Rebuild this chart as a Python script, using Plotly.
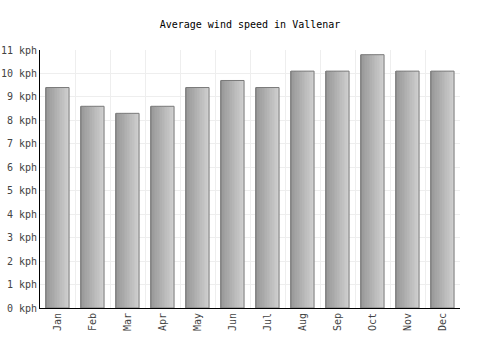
import plotly.graph_objects as go

months = ["Jan", "Feb", "Mar", "Apr", "May", "Jun", "Jul", "Aug", "Sep", "Oct", "Nov", "Dec"]
wind_kph = [9.4, 8.6, 8.3, 8.6, 9.4, 9.7, 9.4, 10.1, 10.1, 10.8, 10.1, 10.1]
y_ticks = list(range(0, 12))
y_tick_labels = [f"{v} kph" for v in y_ticks]

BAR_W = 0.66
N_SLICES = 14
fig = go.Figure()

# gradient fill simulated with thin slices (dark left -> light right)
for i in range(N_SLICES):
    t = i / (N_SLICES - 1)
    c = int(152 + (206 - 152) * t)
    w = BAR_W / N_SLICES
    fig.add_trace(go.Bar(
        x=months, y=wind_kph,
        width=w * 1.05,
        offset=-BAR_W / 2 + i * w,
        marker=dict(color=f"rgb({c},{c},{c})", line=dict(width=0)),
        hoverinfo="skip", showlegend=False,
    ))

# outline
fig.add_trace(go.Bar(
    x=months, y=wind_kph,
    width=BAR_W, offset=-BAR_W / 2,
    marker=dict(color="rgba(0,0,0,0)", line=dict(color="#7a7a7a", width=1)),
    showlegend=False,
))

font = "DejaVu Sans Mono"
fig.update_layout(
    barmode="overlay",
    width=500, height=350,
    margin=dict(l=40, r=40, t=50, b=42),
    paper_bgcolor="white", plot_bgcolor="white",
    title=dict(text="Average wind speed in Vallenar", x=0.5, xanchor="center",
               y=1 - 24 / 350, yanchor="middle",
               font=dict(family=font, size=10, color="black")),
    font=dict(family=font, size=10, color="#333"),
)
fig.update_xaxes(
    type="category", tickson="boundaries", showgrid=True, gridcolor="#eeeeee",
    showline=True, linecolor="black", linewidth=1, tickangle=-90,
    ticks="", tickfont=dict(family=font, size=10, color="#444"),
    range=[-0.5, 11.5], automargin=False,
)
fig.update_yaxes(
    range=[0, 11], tickvals=y_ticks, ticktext=y_tick_labels,
    showgrid=True, gridcolor="#eeeeee", showline=True, linecolor="black", linewidth=1,
    ticks="", zeroline=False, tickfont=dict(family=font, size=10, color="#444"),
    automargin=False,
)
fig.write_html("out.html")
